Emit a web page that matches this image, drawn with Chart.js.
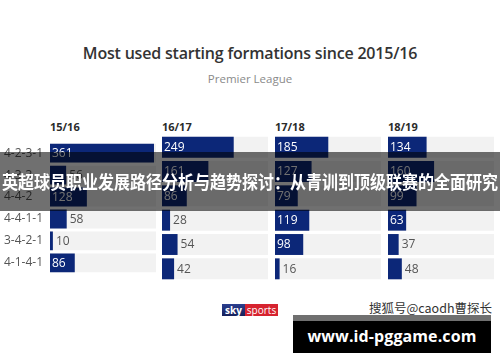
<!DOCTYPE html>
<html>
<head>
<meta charset="utf-8">
<script src="https://cdn.jsdelivr.net/npm/chart.js@4/dist/chart.umd.min.js"></script>
<style>
  html, body { margin: 0; padding: 0; background: #fff; }
  body { width: 500px; height: 362px; position: relative; overflow: hidden; font-family: "Open Sans", "Noto Sans", sans-serif; }
  .abs { position: absolute; }
  #title { left: 0; width: 500px; top: 42px; text-align: center; font-size: 16px; font-weight: 600; color: #333; letter-spacing: -0.2px; }
  #subtitle { left: 0; width: 500px; top: 71px; text-align: center; font-size: 11.5px; color: #8a8a8a; }
  .season { top: 119px; font-size: 11px; font-weight: 700; color: #2b2b2b; }
  .panel { top: 135px; height: 146px; }
  #banner { left: 0; top: 152px; width: 500px; height: 59px; background: rgba(0,0,0,0.56); z-index: 5;
    color: #fff; font-weight: 700; font-size: 16px; line-height: 59px; text-align: center; white-space: nowrap;
    font-family: "Noto Sans CJK SC", sans-serif; }
  #banner span { display: inline-block; transform: scaleY(1.12); }
  #sky { left: 222px; top: 304px; height: 12px; font-size: 10px; line-height: 12px; color: #fff; font-weight: 700; white-space: nowrap; }
  #sky .a { display: inline-block; width: 23px; text-align: center; background: linear-gradient(#2b3f8f, #15205a); }
  #sky .b { display: inline-block; width: 33px; text-align: center; background: #d6232f; font-weight: 400; }
  #mark { left: 369px; top: 298px; font-size: 12.5px; color: #333; font-family: "Noto Sans CJK SC", sans-serif; white-space: nowrap; }
  #site { left: 293px; top: 315px; width: 198px; height: 38px; background: #000; z-index: 6; }
  #site .strip { height: 6px; background: #707070; }
  #site .txt { color: #fff; font-weight: 700; font-size: 16px; line-height: 31px; text-align: center; white-space: nowrap;
    font-family: "Open Sans", sans-serif; letter-spacing: 0.1px; }
</style>
</head>
<body>
<div id="title" class="abs">Most used starting formations since 2015/16</div>
<div id="subtitle" class="abs">Premier League</div>

<div id="seasons"></div>
<div id="panels"></div>

<div id="banner" class="abs"><span>英超球员职业发展路径分析与趋势探讨：从青训到顶级联赛的全面研究</span></div>
<div id="sky" class="abs"><span class="a">sky</span><span class="b">sports</span></div>
<div id="mark" class="abs">搜狐号@caodh曹探长</div>
<div id="site" class="abs"><div class="strip"></div><div class="txt">www.id-pggame.com</div></div>

<script>
// formations (rows) and seasons (panels)
const formations = ["4-2-3-1", "4-3-3", "4-4-2", "4-4-1-1", "3-4-2-1", "4-1-4-1"];
const seasons = ["15/16", "16/17", "17/18", "18/19"];

// games started with each formation, one array per season
const s1516 = [361, 56, 128, 58, 10, 86];
const s1617 = [249, 161, 86, 28, 54, 42];
const s1718 = [185, 127, 79, 119, 98, 16];
const s1819 = [134, 160, 99, 63, 37, 48];
const seasonData = [s1516, s1617, s1718, s1819];

const AXIS_MAX = 368;
const BAR = "#0c2778";
const ROW_BG = "#f2f2f2";
const LABEL_INSIDE_MIN = 60;

const panelLeft = [50, 162, 275, 388];
const panelWidth = 106;
const yAxisWidth = 46;

// value labels: white inside long bars, grey just past short ones
const valueLabels = {
  id: "valueLabels",
  afterDatasetsDraw(chart) {
    const ctx = chart.ctx;
    const meta = chart.getDatasetMeta(0);
    const values = chart.data.datasets[0].data;
    ctx.save();
    ctx.font = "12px 'Open Sans'";
    ctx.textBaseline = "middle";
    meta.data.forEach((bar, i) => {
      const v = values[i];
      if (v >= LABEL_INSIDE_MIN) {
        ctx.fillStyle = "#ffffff";
        ctx.fillText(String(v), bar.base + 2, bar.y + 0.5);
      } else {
        ctx.fillStyle = "#555555";
        ctx.fillText(String(v), bar.x + 3, bar.y + 0.5);
      }
    });
    ctx.restore();
  },
};

function makePanel(idx) {
  const first = idx === 0;
  const left = first ? 4 : panelLeft[idx];
  const width = first ? panelWidth + yAxisWidth : panelWidth;

  const head = document.createElement("div");
  head.className = "abs season";
  head.style.left = panelLeft[idx] + "px";
  head.textContent = seasons[idx];
  document.getElementById("seasons").appendChild(head);

  const wrap = document.createElement("div");
  wrap.className = "abs panel";
  wrap.style.left = left + "px";
  wrap.style.width = width + "px";
  const canvas = document.createElement("canvas");
  canvas.width = width;
  canvas.height = 146;
  wrap.appendChild(canvas);
  document.getElementById("panels").appendChild(wrap);

  new Chart(canvas.getContext("2d"), {
    type: "bar",
    data: {
      labels: formations,
      datasets: [
        {
          data: seasonData[idx],
          backgroundColor: BAR,
          barPercentage: 0.86,
          categoryPercentage: 1,
          grouped: false,
          order: 0,
        },
        {
          data: formations.map(() => AXIS_MAX),
          backgroundColor: ROW_BG,
          barPercentage: 0.86,
          categoryPercentage: 1,
          grouped: false,
          order: 1,
        },
      ],
    },
    options: {
      indexAxis: "y",
      responsive: false,
      animation: false,
      devicePixelRatio: 1,
      layout: { padding: 0 },
      plugins: { legend: { display: false }, tooltip: { enabled: false } },
      scales: {
        x: { display: false, min: 0, max: AXIS_MAX },
        y: {
          display: first,
          grid: { display: false },
          border: { display: false },
          ticks: {
            color: "#555",
            font: { size: 12, family: "'Open Sans'" },
            crossAlign: "far",
            padding: 0,
          },
          afterFit: (s) => { s.width = first ? yAxisWidth : 0; },
        },
      },
    },
    plugins: [valueLabels],
  });
}

seasons.forEach((_s, i) => makePanel(i));
</script>
</body>
</html>
